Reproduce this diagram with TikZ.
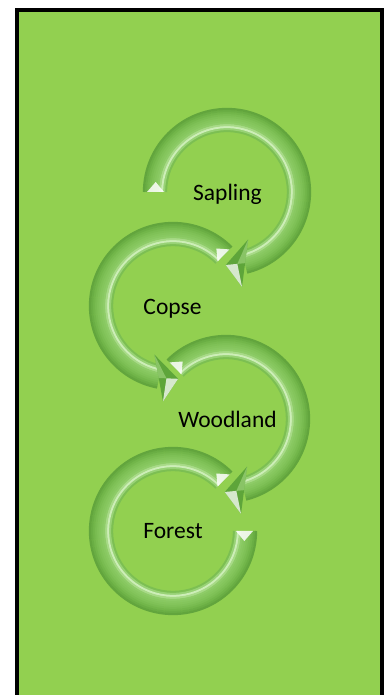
\documentclass[tikz,border=0pt]{standalone}
\usepackage{fontspec}
\setmainfont{Carlito}
\usetikzlibrary{calc}
\definecolor{bg}{HTML}{92D050}
\definecolor{headDark}{HTML}{5EA53A}
\definecolor{headLight}{HTML}{A6DA84}
\definecolor{ba}{HTML}{7CBF52}
\definecolor{bb}{HTML}{98D276}
\definecolor{bc}{HTML}{CDEEB8}
\definecolor{bd}{HTML}{A8DA88}
\definecolor{be}{HTML}{8ECC68}
\definecolor{bf}{HTML}{88C861}
\definecolor{bg2}{HTML}{84C55C}
\definecolor{bh}{HTML}{7FC157}
\definecolor{bi}{HTML}{79BC51}
\definecolor{bj}{HTML}{72B64A}
\definecolor{bk}{HTML}{6AAE44}
\definecolor{bl}{HTML}{62A53D}
\tikzset{
  lbl/.style={font=\fontsize{23.5}{28}\selectfont, text=black, anchor=base, inner sep=0pt},
  frame/.style={line width=4pt, draw=black, fill=bg},
}
% #1 centre, #2 start angle, #3 end angle
\newcommand{\ringband}[3]{%
  \foreach \rr/\cc in {61/ba,63/bb,65/bc,67/bd,69/be,71/bf,73/bg2,75/bh,77/bi,79/bj,81/bk,83/bl}{%
    \draw[line width=2.3pt, color=\cc] ($(#1)+(#2:\rr pt)$) arc[start angle=#2, end angle=#3, radius=\rr pt];
  }%
}
% #1 centre, #2 tip angle, #3 direction (+1 ccw, -1 cw)
\newcommand{\ringhead}[3]{%
  \coordinate (ht) at ($(#1)+(#2:73pt)$);
  \coordinate (hi) at ($(#1)+({#2-(#3)*25}:52pt)$);
  \coordinate (ho) at ($(#1)+({#2-(#3)*10}:96pt)$);
  \coordinate (hm) at ($(ht)!0.6!($(hi)!0.5!(ho)$)$);
  \fill[headDark] (ht) -- (hi) -- (ho) -- cycle;
  \fill[white, opacity=0.75] (ht) -- (ho) -- (hm) -- cycle;
  \fill[headLight, opacity=0.6] (hi) -- (hm) -- ($(hi)!0.5!(ho)$) -- cycle;
}
% bevel at a cut end: #1 centre, #2 angle of cut, #3 signed offset into band
\newcommand{\ringcap}[3]{%
  \fill[white, opacity=0.85] ($(#1)+(#2:80pt)$) -- ($(#1)+(#2:63pt)$) -- ($(#1)+({#2+(#3)}:72pt)$) -- cycle;
}
\begin{document}
\begin{tikzpicture}[x=1pt,y=1pt]
\useasboundingbox (0,0) rectangle (384,695);
\clip (0,0) rectangle (384,695);
\fill[white] (0,0) rectangle (384,695);
\draw[frame] (17,-20) rectangle (382,685);
\coordinate (cS) at (227,503);
\coordinate (cC) at (173,389);
\coordinate (cW) at (226,276);
\coordinate (cF) at (173,164);
% Sapling
\ringband{cS}{180}{-76}
\ringcap{cS}{180}{-8}
\ringhead{cS}{-91}{-1}
% Copse
\ringband{cC}{45}{259}
\ringcap{cC}{45}{8}
\ringhead{cC}{274}{1}
% Woodland
\ringband{cW}{135}{-76}
\ringcap{cW}{135}{-8}
\ringhead{cW}{-91}{-1}
% Forest
\ringband{cF}{45}{360}
\ringcap{cF}{45}{8}
\ringcap{cF}{360}{-8}
\node[lbl] (tS) at (227.5,494) {Sapling};
\node[lbl] (tC) at (172.5,380) {Copse};
\node[lbl] (tW) at (227.5,267) {Woodland};
\node[lbl] (tF) at (173,156) {Forest};
\end{tikzpicture}
\end{document}
